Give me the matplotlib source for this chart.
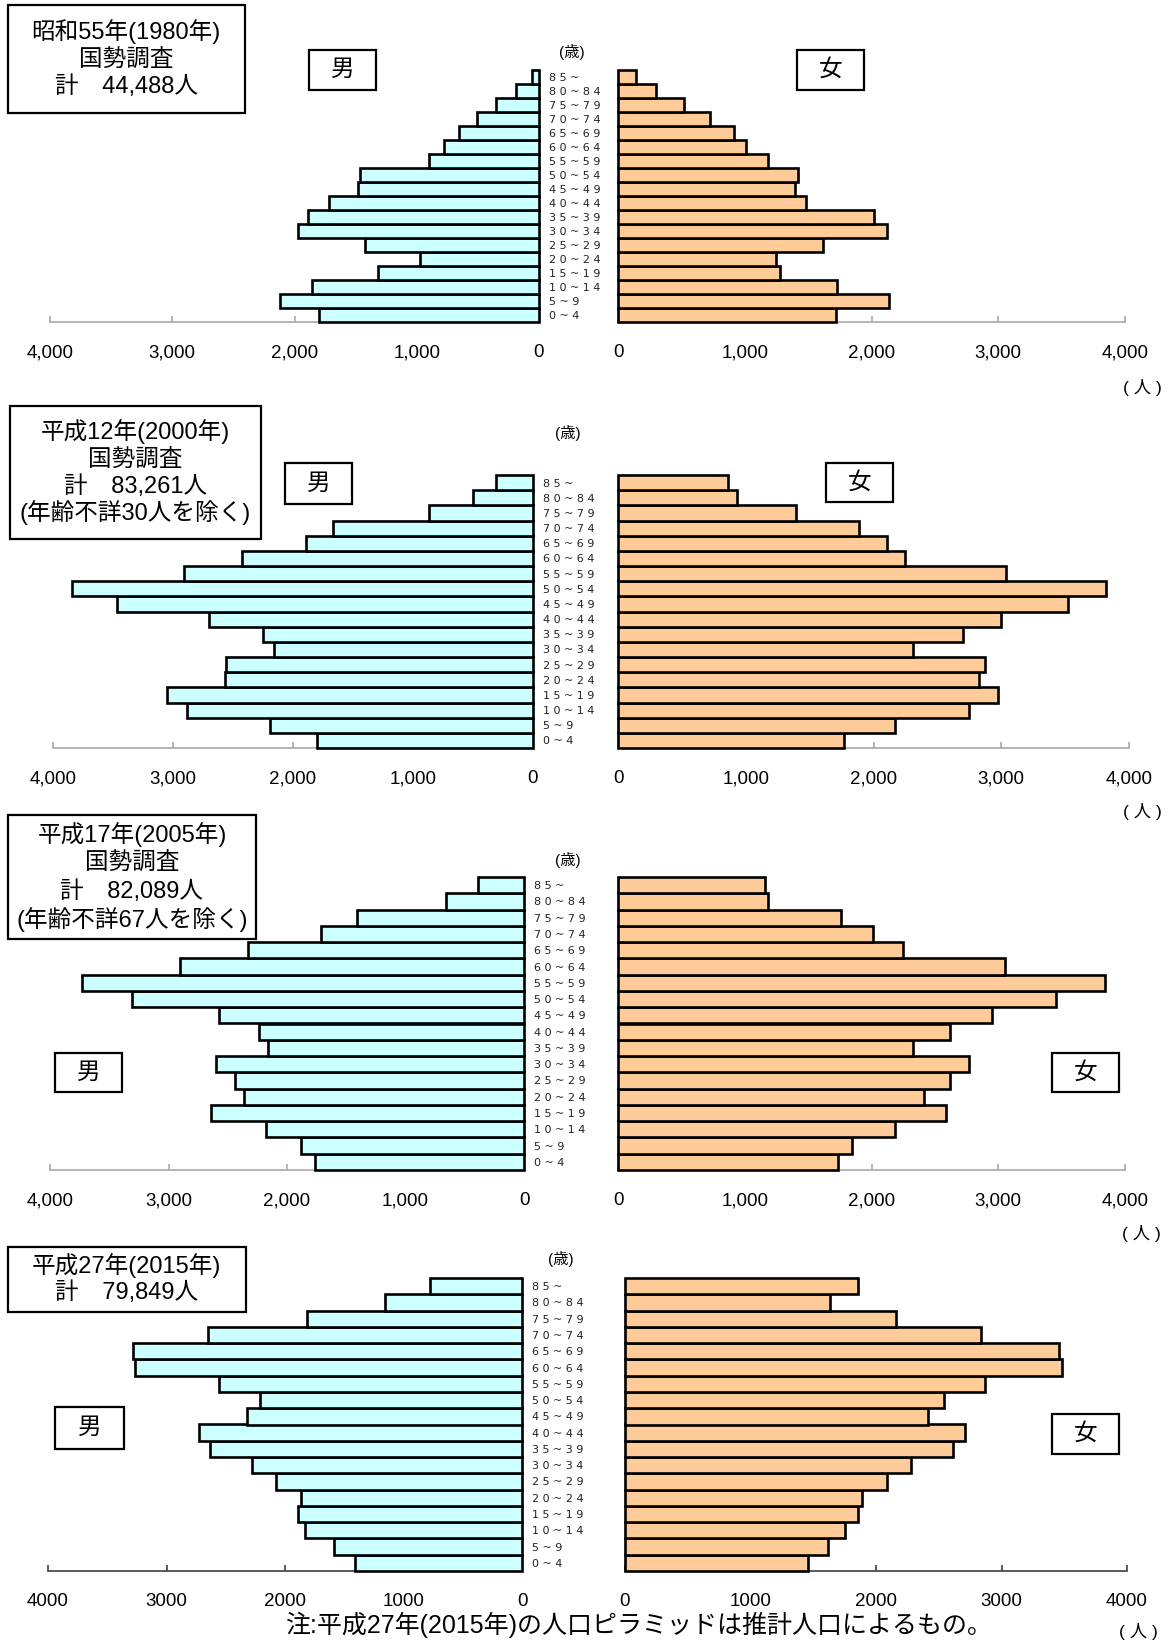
import matplotlib
matplotlib.use("Agg")
import matplotlib.pyplot as plt
from matplotlib.patches import Rectangle

plt.rcParams['font.family'] = ['Noto Sans CJK JP', 'DejaVu Sans']

W, H = 1170, 1643

# age groups, bottom to top
age_groups = ["0~4", "5~9", "10~14", "15~19", "20~24", "25~29", "30~34",
              "35~39", "40~44", "45~49", "50~54", "55~59", "60~64",
              "65~69", "70~74", "75~79", "80~84", "85~"]

male_1980 = [1799, 2122, 1853, 1317, 972, 1426, 1975, 1887, 1718, 1480,
             1467, 897, 777, 658, 511, 354, 188, 56]
female_1980 = [1722, 2138, 1731, 1277, 1244, 1615, 2126, 2016, 1482, 1399,
               1422, 1182, 1007, 915, 722, 523, 300, 143]

male_2000 = [1799, 2188, 2882, 3048, 2569, 2559, 2157, 2246, 2703, 3470,
             3840, 2911, 2422, 1891, 1668, 863, 498, 310]
female_2000 = [1770, 2165, 2745, 2975, 2828, 2875, 2312, 2701, 2996, 3523,
               3823, 3037, 2247, 2103, 1888, 1393, 931, 863]

male_2005 = [1765, 1884, 2181, 2642, 2361, 2439, 2597, 2158, 2235, 2571,
             3310, 3732, 2900, 2332, 1716, 1410, 655, 387]
female_2005 = [1734, 1847, 2186, 2589, 2414, 2616, 2771, 2331, 2622, 2952,
               3454, 3840, 3050, 2245, 2013, 1761, 1185, 1158]

male_2015 = [1413, 1588, 1829, 1891, 1864, 2078, 2277, 2636, 2722, 2322,
             2212, 2556, 3270, 3283, 2646, 1816, 1158, 775]
female_2015 = [1461, 1614, 1754, 1855, 1890, 2090, 2275, 2617, 2710, 2412,
               2545, 2872, 3481, 3458, 2835, 2157, 1632, 1858]

titles_1980 = ["昭和55年(1980年)", "国勢調査", "計　44,488人"]
titles_2000 = ["平成12年(2000年)", "国勢調査", "計　83,261人", "(年齢不詳30人を除く)"]
titles_2005 = ["平成17年(2005年)", "国勢調査", "計　82,089人", "(年齢不詳67人を除く)"]
titles_2015 = ["平成27年(2015年)", "計　79,849人"]

tick_values = [0, 1000, 2000, 3000, 4000]
note = "注:平成27年(2015年)の人口ピラミッドは推計人口によるもの。"

MALE_COLOR = "#ccffff"
FEMALE_COLOR = "#ffcc99"
TEXT_FONT = ['Liberation Sans', 'Noto Sans CJK JP']

fig = plt.figure(figsize=(W / 100, H / 100), dpi=100)


def fx(x):
    return x / W


def fy(y):
    return 1 - y / H


def add_ax(x0, x1, y0, y1):
    return fig.add_axes([fx(x0), fy(y1), (x1 - x0) / W, (y1 - y0) / H])


def box(x0, y0, x1, y1):
    fig.add_artist(Rectangle((fx(x0), fy(y1)), (x1 - x0) / W, (y1 - y0) / H,
                             transform=fig.transFigure, fill=False,
                             ec="black", lw=1.6))


def ftext(x, y, s, size):
    fig.text(fx(x), fy(y), s, fontsize=size, ha="center", va="center",
             family=TEXT_FONT)


def side(ax, values, color, xlim, spine_color, comma):
    ax.barh(range(len(values)), values, height=1.0, color=color,
            edgecolor="black", linewidth=1.9, zorder=3, clip_on=False)
    ax.set_xlim(*xlim)
    ax.set_ylim(-0.5, len(values) - 0.5)
    for s in ["top", "left", "right"]:
        ax.spines[s].set_visible(False)
    ax.spines["bottom"].set_color(spine_color)
    ax.spines["bottom"].set_linewidth(1.2)
    ax.set_xticks(tick_values)
    ax.set_xticklabels([f"{v:,}" if comma else f"{v}" for v in tick_values],
                       family=TEXT_FONT, fontsize=13.5)
    ax.tick_params(axis="x", direction="in", length=4, width=1.2,
                   color=spine_color, pad=16)
    ax.set_yticks([])


def panel(male, female, titles, lay, spine_color="#a8a8a8", comma=True):
    mx0, mx1, fx0, fx1, y0, y1 = lay["axes"]
    axm = add_ax(mx0, mx1, y0, y1)
    side(axm, male, MALE_COLOR, (4000, 0), spine_color, comma)
    axm.yaxis.set_ticks_position("right")
    axm.set_yticks(range(len(age_groups)))
    axm.set_yticklabels([" ".join(a) for a in age_groups],
                        family=['Liberation Sans Narrow', 'DejaVu Sans'],
                        fontsize=8, color="#222222")
    axm.tick_params(axis="y", length=0, pad=7)

    axf = add_ax(fx0, fx1, y0, y1)
    side(axf, female, FEMALE_COLOR, (0, 4000), spine_color, comma)

    bx0, by0, bx1, by1 = lay["title_box"]
    box(bx0, by0, bx1, by1)
    cx = (bx0 + bx1) / 2
    for s, ty in zip(titles, lay["title_y"]):
        ftext(cx, ty, s, 17)

    for key, label in [("male_box", "男"), ("female_box", "女")]:
        x0, yy0, x1, yy1 = lay[key]
        box(x0, yy0, x1, yy1)
        ftext((x0 + x1) / 2, (yy0 + yy1) / 2, label, 17)

    ftext(*lay["sai"], "(歳)", 11)
    ftext(*lay["nin"], "( 人 )", 12.5)


panel(male_1980, female_1980, titles_1980, {
    "axes": (50, 539, 618, 1125, 70, 322),
    "title_box": (7.5, 5, 245, 113), "title_y": [32, 60, 87],
    "male_box": (309, 50, 376, 90), "female_box": (797, 50, 864, 90),
    "sai": (572, 52), "nin": (1142, 387)})

panel(male_2000, female_2000, titles_2000, {
    "axes": (53, 533, 618, 1129, 475, 748),
    "title_box": (9.5, 406, 261, 539), "title_y": [432, 460, 487, 513],
    "male_box": (285, 463, 352, 504), "female_box": (826, 463, 893, 502),
    "sai": (568, 433), "nin": (1142, 812)})

panel(male_2005, female_2005, titles_2005, {
    "axes": (50, 524, 618, 1125, 877, 1170),
    "title_box": (8, 815, 256, 939), "title_y": [835, 863, 892, 920],
    "male_box": (55, 1053, 122, 1092), "female_box": (1052, 1053, 1119, 1092),
    "sai": (568, 860), "nin": (1141, 1234)})

panel(male_2015, female_2015, titles_2015, {
    "axes": (48, 522, 625, 1127, 1278, 1571),
    "title_box": (7.5, 1247, 245.5, 1312), "title_y": [1266, 1293],
    "male_box": (55, 1407, 124, 1449), "female_box": (1052, 1414, 1119, 1454),
    "sai": (561, 1259), "nin": (1138, 1631)},
    spine_color="#404040", comma=False)

ftext(639, 1625, note, 18)

fig.savefig("out.png", dpi=100)
